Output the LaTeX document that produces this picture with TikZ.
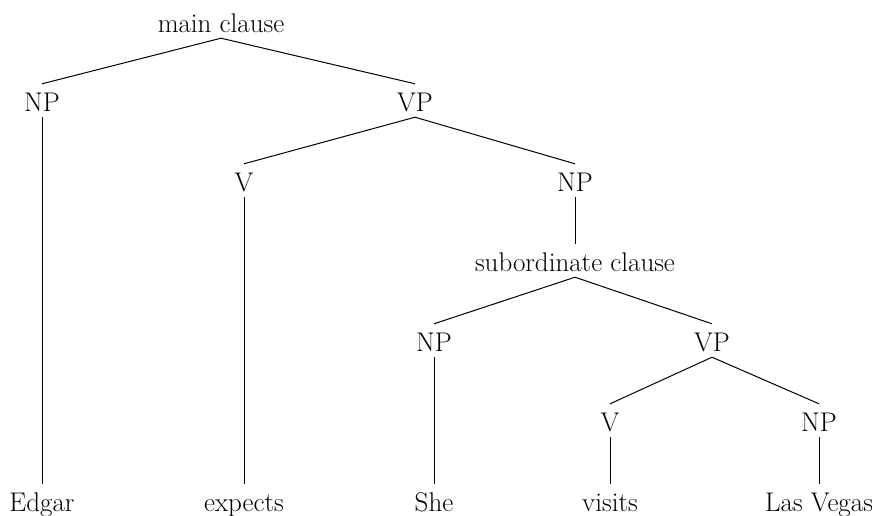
\documentclass[tikz,border=0pt]{standalone}
\usepackage{tikz}
\tikzstyle{cat} = [inner sep=1pt, text height=26pt, text depth=5pt, anchor=base, font=\fontsize{27}{32}\selectfont]
\tikzstyle{branch} = [line width=1pt]

\begin{document}
\begin{tikzpicture}[x=1pt, y=1pt]
            \useasboundingbox (0,0) rectangle (872,-515);

            \node (mc) [cat] at (221,-32) {main clause};
            \node (np1) [cat] at (42,-111) {NP};
            \node (vp1) [cat] at (415,-111) {VP};
            \node (v1) [cat] at (244,-191) {V};
            \node (np2) [cat] at (575,-191) {NP};
            \node (sc) [cat] at (575,-271) {subordinate clause};
            \node (np3) [cat] at (434,-351) {NP};
            \node (vp2) [cat] at (712,-351) {VP};
            \node (v2) [cat] at (610,-431) {V};
            \node (np4) [cat] at (819,-431) {NP};

            \node (edgar) [cat] at (42,-511) {Edgar};
            \node (expects) [cat] at (244,-511) {expects};
            \node (she) [cat] at (434,-511) {She};
            \node (visits) [cat] at (610,-511) {visits};
            \node (lv) [cat] at (819,-511) {Las Vegas};

            \draw [branch] (mc.south) -- (np1.north);
            \draw [branch] (mc.south) -- (vp1.north);
            \draw [branch] (np1.south) -- (edgar.north);
            \draw [branch] (vp1.south) -- (v1.north);
            \draw [branch] (vp1.south) -- (np2.north);
            \draw [branch] (v1.south) -- (expects.north);
            \draw [branch] (np2.south) -- (sc.north);
            \draw [branch] (sc.south) -- (np3.north);
            \draw [branch] (sc.south) -- (vp2.north);
            \draw [branch] (np3.south) -- (she.north);
            \draw [branch] (vp2.south) -- (v2.north);
            \draw [branch] (vp2.south) -- (np4.north);
            \draw [branch] (v2.south) -- (visits.north);
            \draw [branch] (np4.south) -- (lv.north);
        \end{tikzpicture}
\end{document}
